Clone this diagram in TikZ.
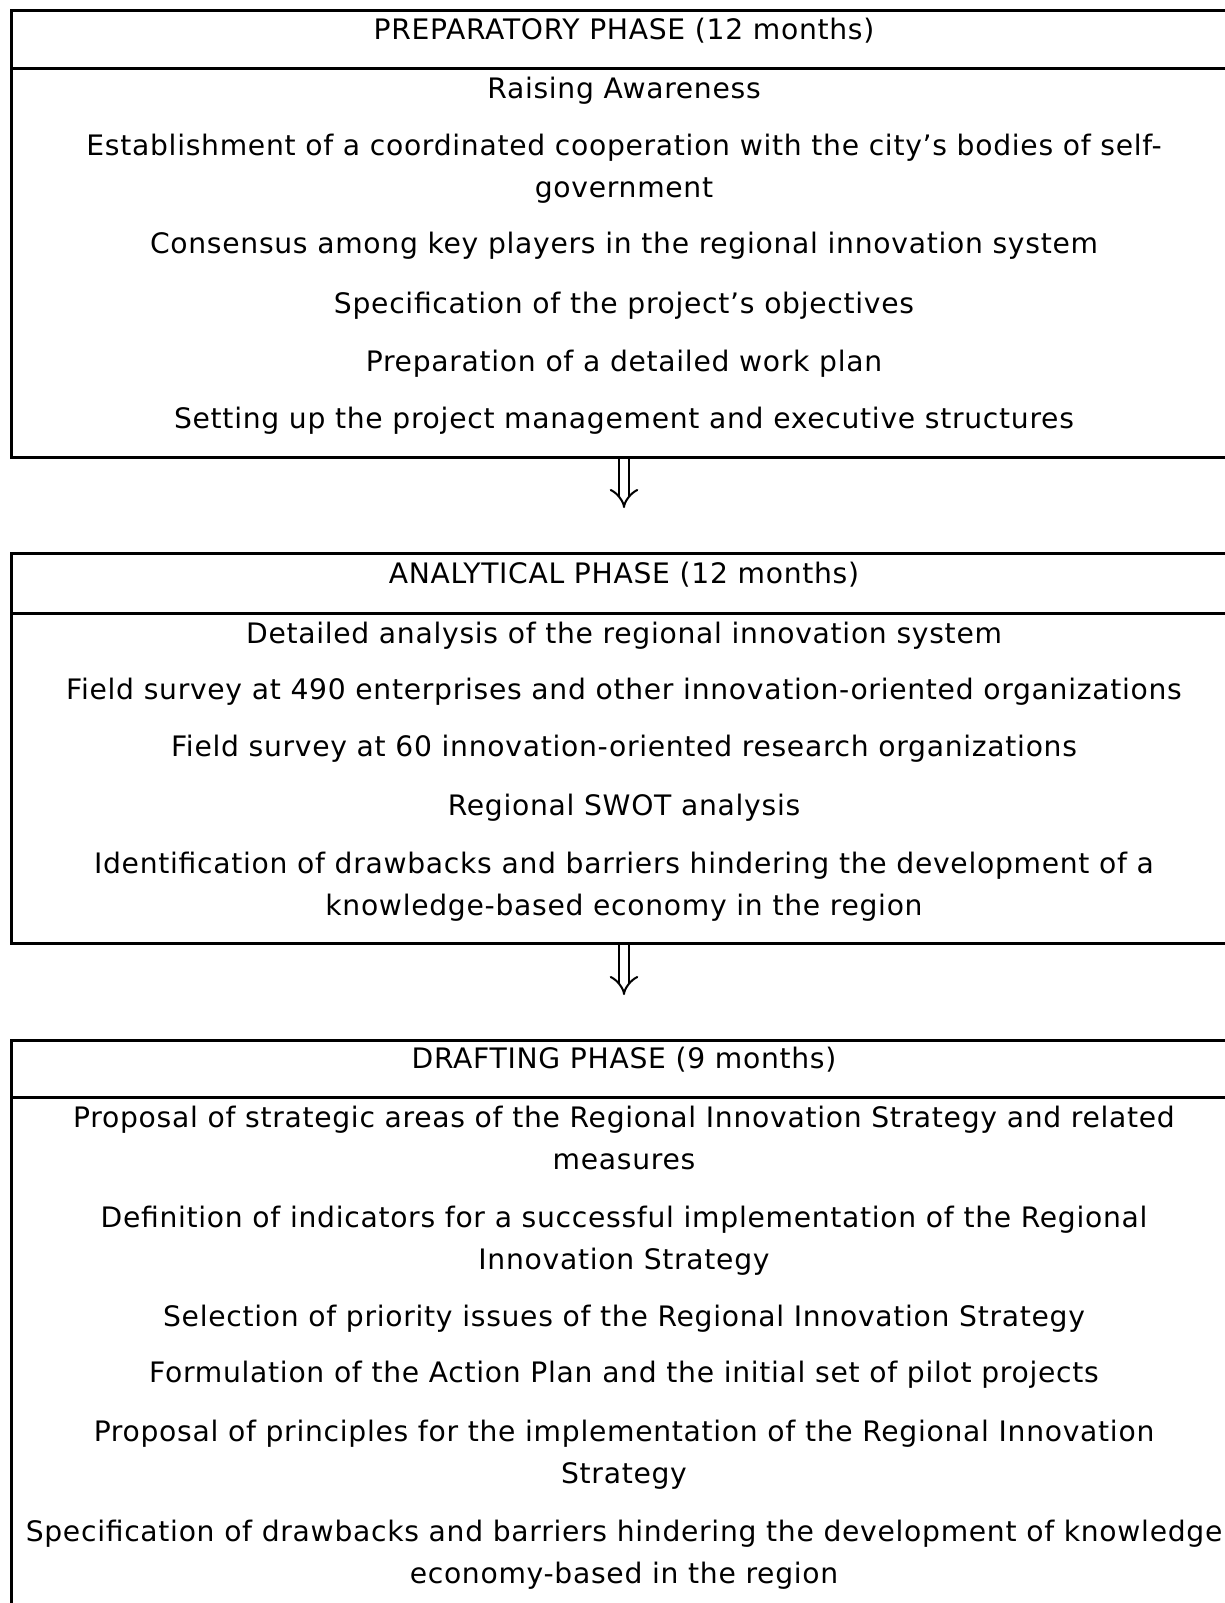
\documentclass[tikz,border=0pt]{standalone}
\usepackage{fontspec}
\setmainfont[LetterSpace=2.5]{DejaVu Sans}
\usetikzlibrary{arrows.meta}
\begin{document}
\begin{tikzpicture}[x=1pt,y=-1pt,
  phase box/.style={draw,line width=3pt,anchor=north west,minimum width=1226pt,inner sep=0pt,outer sep=0pt},
  phase line/.style={line width=3pt},
  item/.style={anchor=base,align=center,inner sep=0pt,font=\fontsize{28.2}{42}\selectfont},
  step arrow/.style={double,double distance=8pt,line width=2pt,-{Implies[length=16pt,width=30pt]},shorten <=2pt,shorten >=45pt}]

  \useasboundingbox (0,0) rectangle (1225,1603);
  \clip (0,0) rectangle (1225,1603);

  % preparatory phase
  \node[phase box,minimum height=446pt] (prep) at (11,11) {};
  \draw[phase line] (11,69) -- (1237,69);
  \node[item] (prephead) at (624,40) {PREPARATORY PHASE (12 months)};
  \node[item] (p1) at (624,98) {Raising Awareness};
  \node[item] (p2) at (624,197) {Establishment of a coordinated cooperation with the city’s bodies of self-\\government};
  \node[item] (p3) at (624,253) {Consensus among key players in the regional innovation system};
  \node[item] (p4) at (624,313) {Specification of the project’s objectives};
  \node[item] (p5) at (624,371) {Preparation of a detailed work plan};
  \node[item] (p6) at (624,428) {Setting up the project management and executive structures};

  % analytical phase
  \node[phase box,minimum height=390pt] (anal) at (11,553) {};
  \draw[phase line] (11,613) -- (1237,613);
  \node[item] (analhead) at (624,583) {ANALYTICAL PHASE (12 months)};
  \node[item] (a1) at (624,643) {Detailed analysis of the regional innovation system};
  \node[item] (a2) at (624,699) {Field survey at 490 enterprises and other innovation-oriented organizations};
  \node[item] (a3) at (624,756) {Field survey at 60 innovation-oriented research organizations};
  \node[item] (a4) at (624,815) {Regional SWOT analysis};
  \node[item] (a5) at (624,915) {Identification of drawbacks and barriers hindering the development of a\\knowledge-based economy in the region};

  % drafting phase
  \node[phase box,minimum height=600pt] (draft) at (11,1040) {};
  \draw[phase line] (11,1097) -- (1237,1097);
  \node[item] (drafthead) at (624,1068) {DRAFTING PHASE (9 months)};
  \node[item] (d1) at (624,1169) {Proposal of strategic areas of the Regional Innovation Strategy and related\\measures};
  \node[item] (d2) at (624,1269) {Definition of indicators for a successful implementation of the Regional\\Innovation Strategy};
  \node[item] (d3) at (624,1326) {Selection of priority issues of the Regional Innovation Strategy};
  \node[item] (d4) at (624,1382) {Formulation of the Action Plan and the initial set of pilot projects};
  \node[item] (d5) at (624,1483) {Proposal of principles for the implementation of the Regional Innovation\\Strategy};
  \node[item] (d6) at (624,1583) {Specification of drawbacks and barriers hindering the development of knowledge\\economy-based in the region};

  \draw[step arrow] (prep.south) -- (anal.north);
  \draw[step arrow] (anal.south) -- (draft.north);
\end{tikzpicture}
\end{document}
